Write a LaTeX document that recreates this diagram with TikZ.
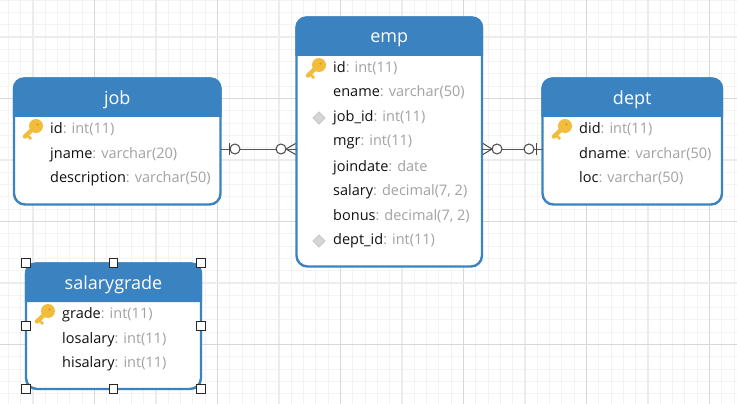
\documentclass[tikz,border=0pt]{standalone}
\usepackage{fontspec}
\setmainfont{Open Sans}
\definecolor{erblue}{HTML}{3A82C0}
\definecolor{fieldc}{HTML}{111111}
\definecolor{typec}{HTML}{A2A2A2}
\definecolor{griddark}{HTML}{D8D8D8}
\definecolor{gridpale}{HTML}{ECECEC}
\definecolor{gridmin}{HTML}{F3F3F3}
\definecolor{keyc}{HTML}{F2BC3C}
\definecolor{keyd}{HTML}{D9A32A}
\definecolor{linkc}{HTML}{555555}
\tikzset{
  x=1pt,y=-1pt,
  table box/.style={draw=erblue,line width=2.4pt,rounded corners=11pt,fill=white,inner sep=0pt,outer sep=0pt,anchor=north west},
  title text/.style={text=white,font=\fontsize{18}{20}\selectfont,inner sep=0pt,anchor=base},
  row text/.style={anchor=base west,inner sep=0pt,font=\fontsize{14.5}{16}\selectfont,text=fieldc},
  handle box/.style={draw=black!85,line width=1.4pt,fill=white,minimum size=8.5pt,inner sep=0pt},
  link line/.style={draw=linkc,line width=1pt},
  link mark/.style={draw=linkc!85!black,line width=1pt,fill=white},
}
\newcommand{\ertable}[7]{% name x0 y0 x1 y1 yh title
  \pgfmathsetlengthmacro{\tw}{#4-#2}\pgfmathsetlengthmacro{\th}{#5-#3}
  \node[table box,minimum width=\tw,minimum height=\th] (#1) at (#2,#3) {};
  \fill[erblue] (#2-1.2,#6) [rounded corners=11pt] -- (#2-1.2,#3-1.2) -- (#4+1.2,#3-1.2) [sharp corners] -- (#4+1.2,#6) -- cycle;
  \node[title text] (#1title) at ({(#2+#4)/2},{#6-13}) {#7};
}
\newcommand{\errow}[5]{% name x y field type
  \node[row text] (#1) at (#2,#3) {#4\textcolor{typec}{: #5}};
}
\newcommand{\erkey}[2]{%
  \begin{scope}[shift={(#1,#2)}]
    \draw[keyc,line width=4.4pt,line cap=round] (-1,1) -- (-11,10.5);
    \draw[keyc,line width=2.5pt] (-8,10) -- (-5,13);
    \fill[keyc] (0,0) circle (7);
    \fill[keyd] (1.5,-1.5) circle (1.4);
  \end{scope}
}
\newcommand{\erdiamond}[2]{%
  \draw[draw=black!22,fill=black!16,line width=1pt] (#1-6,#2) -- (#1,#2-6) -- (#1+6,#2) -- (#1,#2+6) -- cycle;
}
\begin{document}
\begin{tikzpicture}
\useasboundingbox (0,0) rectangle (737,404);
\fill[white] (0,0) rectangle (737,404);
\foreach \k in {0,...,59} {
  \draw[gridmin,line width=1pt] ({8.4+12.3*\k},0) -- ({8.4+12.3*\k},404);
}
\foreach \k in {0,...,32} {
  \draw[gridmin,line width=1pt] (0,{0.1+12.3*\k}) -- (737,{0.1+12.3*\k});
}
\foreach \k in {0,...,5} {
  \draw[gridpale,line width=1.6pt] ({33+123*\k},0) -- ({33+123*\k},404);
  \draw[griddark,line width=0.9pt] ({94.5+123*\k},0) -- ({94.5+123*\k},404);
}
\foreach \k in {0,...,2} {
  \draw[gridpale,line width=1.6pt] (0,{37+123*\k}) -- (737,{37+123*\k});
  \draw[griddark,line width=0.9pt] (0,{98.5+123*\k}) -- (737,{98.5+123*\k});
}

\coordinate (linky) at (0,149);

% job
\ertable{job}{14}{78.5}{220.5}{204.5}{117}{job}
\erkey{36}{126}
\errow{jobA}{50}{133}{id}{int(11)}
\errow{jobB}{50}{158}{jname}{varchar(20)}
\errow{jobC}{50}{182}{description}{varchar(50)}

% emp
\ertable{emp}{296.5}{17.5}{482}{266.5}{56}{emp}
\erkey{319}{65}
\errow{empA}{333}{72.5}{id}{int(11)}
\errow{empB}{333}{97}{ename}{varchar(50)}
\erdiamond{319}{118}
\errow{empC}{333}{121.5}{job\_id}{int(11)}
\errow{empD}{333}{146}{mgr}{int(11)}
\errow{empE}{333}{171}{joindate}{date}
\errow{empF}{333}{195}{salary}{decimal(7, 2)}
\errow{empG}{333}{220}{bonus}{decimal(7, 2)}
\erdiamond{319}{241}
\errow{empH}{333}{244.5}{dept\_id}{int(11)}

% dept
\ertable{dept}{542.5}{78.5}{722}{204.5}{117}{dept}
\erkey{565}{126}
\errow{deptA}{579}{133}{did}{int(11)}
\errow{deptB}{579}{158}{dname}{varchar(50)}
\errow{deptC}{579}{182}{loc}{varchar(50)}

% salarygrade
\ertable{sal}{26}{263.5}{201}{389}{302}{salarygrade}
\erkey{48}{311}
\errow{salA}{62}{318}{grade}{int(11)}
\errow{salB}{62}{343}{losalary}{int(11)}
\errow{salC}{62}{367}{hisalary}{int(11)}

% connectors
\draw[link line] (job.east |- linky) -- (emp.west |- linky);
\draw[link line] (emp.east |- linky) -- (dept.west |- linky);
\draw[link mark] (229,143) -- (229,155);
\draw[link mark] (235,149) circle (5);
\draw[link mark] (281,149) circle (5);
\draw[link mark] (286,149) -- (295.5,143.5) (286,149) -- (295.5,154.5);
\draw[link mark] (497,149) circle (5);
\draw[link mark] (492,149) -- (483,143.5) (492,149) -- (483,154.5);
\draw[link mark] (529,149) circle (5);
\draw[link mark] (536,143) -- (536,155);

% selection handles
\foreach \hn/\hx/\hy in {a/26/263,b/113.5/263,c/201/263,d/26/326,e/201/326,f/26/389,g/113.5/389,h/201/389} {
  \node[handle box] (handle\hn) at (\hx,\hy) {};
}
\end{tikzpicture}
\end{document}
